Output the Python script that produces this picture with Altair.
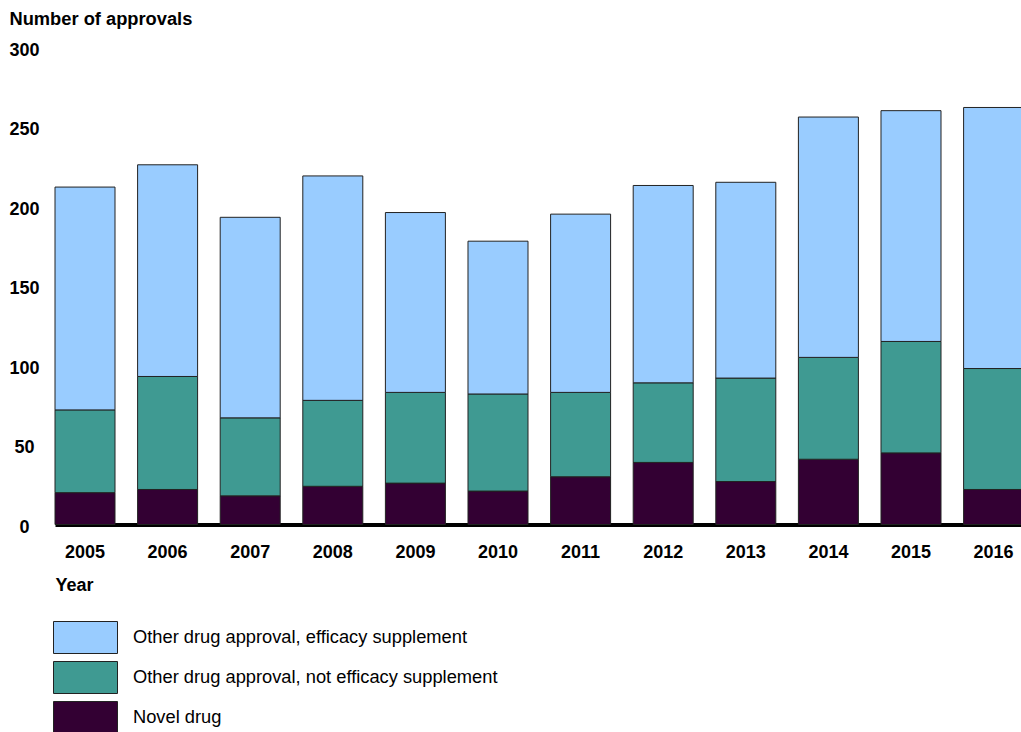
import altair as alt
import pandas as pd

years = ["2005", "2006", "2007", "2008", "2009", "2010",
         "2011", "2012", "2013", "2014", "2015", "2016"]
novel = [20, 22, 18, 24, 26, 21, 30, 39, 27, 41, 45, 22]
other_not_eff = [52, 71, 49, 54, 57, 61, 53, 50, 65, 64, 70, 76]
other_eff = [140, 133, 126, 141, 113, 96, 112, 124, 123, 151, 145, 164]

series = ["Other drug approval, efficacy supplement",
          "Other drug approval, not efficacy supplement",
          "Novel drug"]
colors = ["#99CCFF", "#3F9A92", "#330033"]
y_ticks = [0, 50, 100, 150, 200, 250, 300]

rows = []
for i, yr in enumerate(years):
    for name, vals, o in [(series[2], novel, 0),
                          (series[1], other_not_eff, 1),
                          (series[0], other_eff, 2)]:
        rows.append({"year": yr, "series": name, "count": vals[i], "ord": o})
df = pd.DataFrame(rows)

FONT = "Liberation Sans"

chart = alt.Chart(df).mark_bar(stroke="#222222", strokeWidth=1, opacity=1).encode(
    x=alt.X(
        "year:N", sort=years,
        scale=alt.Scale(range=[0, 968.6], paddingInner=0.2736, paddingOuter=0),
        axis=alt.Axis(
            title="Year", labelAngle=0, labelFont=FONT, labelFontSize=18,
            labelFontWeight="bold", labelColor="black", labelPadding=19,
            labelBaseline="top", ticks=False, tickSize=0,
            domainColor="black", domainWidth=4,
            titleFont=FONT, titleFontSize=18, titleFontWeight="bold",
            titleColor="black", titleX=0, titleY=65.5, titleAlign="left",
            titleBaseline="alphabetic",
        ),
    ),
    y=alt.Y(
        "count:Q", stack="zero",
        scale=alt.Scale(domain=[0, 300], nice=False),
        axis=alt.Axis(
            values=y_ticks, title="Number of approvals", titleAngle=0,
            titleX=-46, titleY=-22.7, titleAlign="left",
            titleBaseline="alphabetic", titleFont=FONT, titleFontSize=18.3,
            titleFontWeight="bold", titleColor="black",
            labelAlign="center", labelPadding=31, labelOffset=3,
            labelBaseline="middle", labelFont=FONT, labelFontSize=18,
            labelFontWeight="bold", labelColor="black",
            domain=False, ticks=False, tickSize=0, grid=False,
            labelOverlap=False,
        ),
    ),
    color=alt.Color(
        "series:N",
        scale=alt.Scale(domain=series, range=colors),
        legend=alt.Legend(
            title=None, orient="none", legendX=14, legendY=574,
            direction="vertical",
            symbolType="M-2,-1H2V1H-2Z", symbolSize=1024,
            symbolStrokeColor="#222222", symbolStrokeWidth=1,
            symbolOpacity=1, labelFont=FONT, labelFontSize=18.3,
            labelColor="black", labelOffset=31, labelLimit=600,
            rowPadding=3, padding=0,
        ),
    ),
    order=alt.Order("ord:Q", sort="ascending"),
).properties(
    width=966, height=477.5,
    autosize=alt.AutoSizeParams(type="none"),
    padding={"left": 55, "top": 47, "right": 0, "bottom": 207.5},
).configure_view(strokeWidth=0, stroke="transparent")

chart.save("out.html", embed_options={"renderer": "svg", "actions": False})
